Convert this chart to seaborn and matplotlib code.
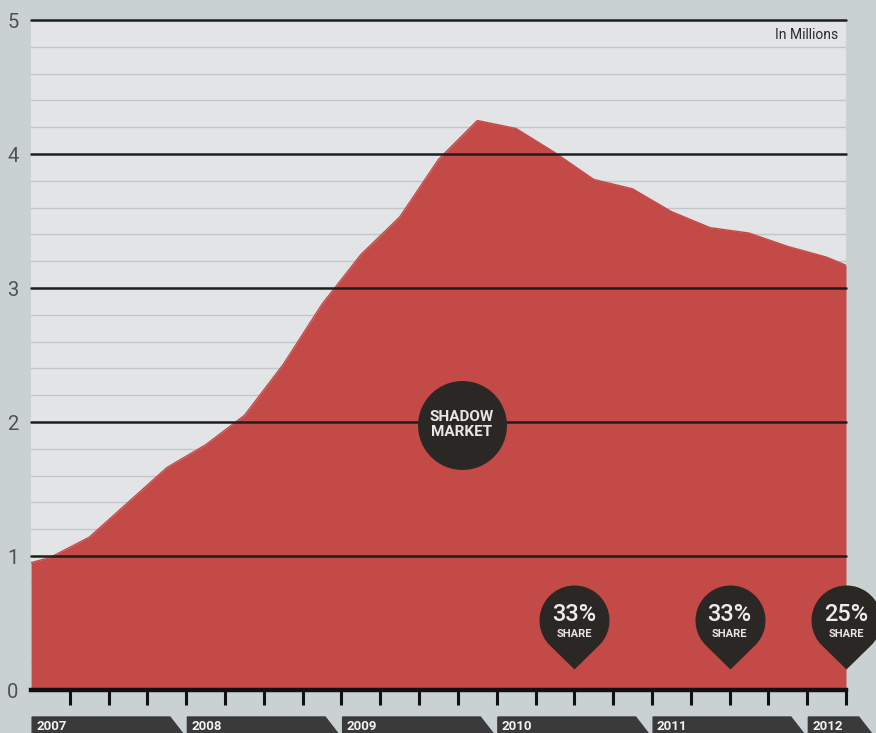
import numpy as np
import pandas as pd
import matplotlib
matplotlib.use("Agg")
import matplotlib.pyplot as plt
import matplotlib.transforms as mtransforms
from matplotlib.path import Path
import seaborn as sns

# ---- data (quarter index: 0 = start of 2007, 21 = start of 2012 Q2) ----
years = ["2007", "2008", "2009", "2010", "2011", "2012"]
q_pos = [0.0, 0.5, 1.5, 2.5, 3.5, 4.5, 5.5, 6.5, 7.5, 8.5, 9.5, 10.5,
         11.5, 12.5, 13.5, 14.5, 15.5, 16.5, 17.5, 18.5, 19.5, 20.5, 21.0]
shadow = [0.95, 0.99, 1.14, 1.40, 1.66, 1.83, 2.05, 2.43, 2.88, 3.25, 3.53, 3.96,
          4.25, 4.19, 4.01, 3.81, 3.74, 3.57, 3.45, 3.41, 3.31, 3.23, 3.17]
pin_pos = [14, 18, 21]
pin_labels = ["33%", "33%", "25%"]
y_ticks = [0, 1, 2, 3, 4, 5]

df = pd.DataFrame({"q": q_pos, "v": shadow})

sns.set_theme(style="white")
plt.rcParams["font.family"] = ["Roboto", "DejaVu Sans"]

FIG_BG = "#c9d1d3"
AX_BG = "#e3e4e6"
RED = "#c44a48"
DARK = "#2b2725"

fig = plt.figure(figsize=(8.76, 7.33), dpi=100, facecolor=FIG_BG)
ax = fig.add_axes([31 / 876, 43 / 733, 815 / 876, 670 / 733])
ax.set_facecolor(AX_BG)
ax.set_xlim(0, 21)
ax.set_ylim(0, 5)

# minor grid lines (below the area)
for yv in np.arange(0.2, 5.0, 0.2):
    if abs(yv - round(yv)) > 1e-6:
        ax.axhline(yv, color="#c3c6c9", lw=1.0, zorder=1)

# area
ax.fill_between(df["q"], 0, df["v"], color=RED, lw=0, zorder=2)
sns.lineplot(data=df, x="q", y="v", color=RED, lw=1, ax=ax, zorder=2)

# major grid lines (over the area)
for yv in y_ticks[1:]:
    ax.axhline(yv, color="#1e1e1e", lw=1.8, zorder=3, clip_on=False)

# spines / ticks
for s in ["top", "right", "left"]:
    ax.spines[s].set_visible(False)
ax.spines["bottom"].set_color("#111111")
ax.spines["bottom"].set_linewidth(3.2)
ax.spines["bottom"].set_zorder(5)
ax.set_xticks(range(1, 22))
ax.set_xticklabels([])
ax.tick_params(axis="x", direction="out", length=11, width=2.2, color="#111111", bottom=True)
ax.set_yticks(y_ticks)
ax.set_yticklabels([str(t) for t in y_ticks], fontsize=14.5, color="#505050")
ax.tick_params(axis="y", length=0, pad=9)
ax.set_xlabel("")
ax.set_ylabel("")

# "In Millions"
ax.text(0.990, 0.978, "In Millions", transform=ax.transAxes, ha="right", va="center",
        fontsize=10, color="#2a2a2a")

# shadow market bubble
ax.scatter([11.1], [1.98], s=4100, color=DARK, zorder=6, linewidths=0)
ax.text(11.1, 1.98, "SHADOW\nMARKET", ha="center", va="center", fontsize=11,
        fontweight="bold", color="#e6e6e6", zorder=7, linespacing=1.05)

# teardrop pins
r_tip = 1.4
ang = np.degrees(np.arccos(1 / r_tip))
a1 = -90 + ang
a2 = 270 - ang
arc = Path.arc(a1, a2)
verts = np.vstack([[0, -r_tip], arc.vertices, [0, -r_tip]])
codes = [Path.MOVETO] + [Path.LINETO] + list(arc.codes[1:]) + [Path.CLOSEPOLY]
pin_path = Path(verts, codes)
pin_y = 0.52
ax.scatter(pin_pos, [pin_y] * len(pin_pos), marker=pin_path, s=4980, color=DARK,
           zorder=6, linewidths=0, clip_on=False)
for x, lab in zip(pin_pos, pin_labels):
    ax.text(x, pin_y + 0.045, lab, ha="center", va="center", fontsize=17,
            fontweight="medium", color="#ececec", zorder=7, clip_on=False)
    ax.text(x, pin_y - 0.105, "SHARE", ha="center", va="center", fontsize=8,
            fontweight="bold", color="#e6e6e6", zorder=7, clip_on=False)

# year banners below the axis
trans = mtransforms.blended_transform_factory(ax.transData, ax.transAxes)
y_top, y_mid, y_bot = -27 / 670, -43 / 670, -59 / 670
for j, yr in enumerate(years):
    start = 4 * j + 0.03
    end = min(4 * j + 4, 21.75) - 0.1
    shoulder = end - 0.32
    poly = plt.Polygon([[start, y_top], [shoulder, y_top], [end, y_mid],
                        [shoulder, y_bot], [start, y_bot]], closed=True,
                       transform=trans, color="#3a3a3a", clip_on=False, zorder=4)
    ax.add_patch(poly)
    ax.text(start + 0.1, -36 / 670, yr, transform=trans, ha="left", va="center",
            fontsize=9.5, fontweight="bold", color="#f2f2f2", clip_on=False, zorder=5)

fig.savefig("out.png", dpi=100, facecolor=FIG_BG)
